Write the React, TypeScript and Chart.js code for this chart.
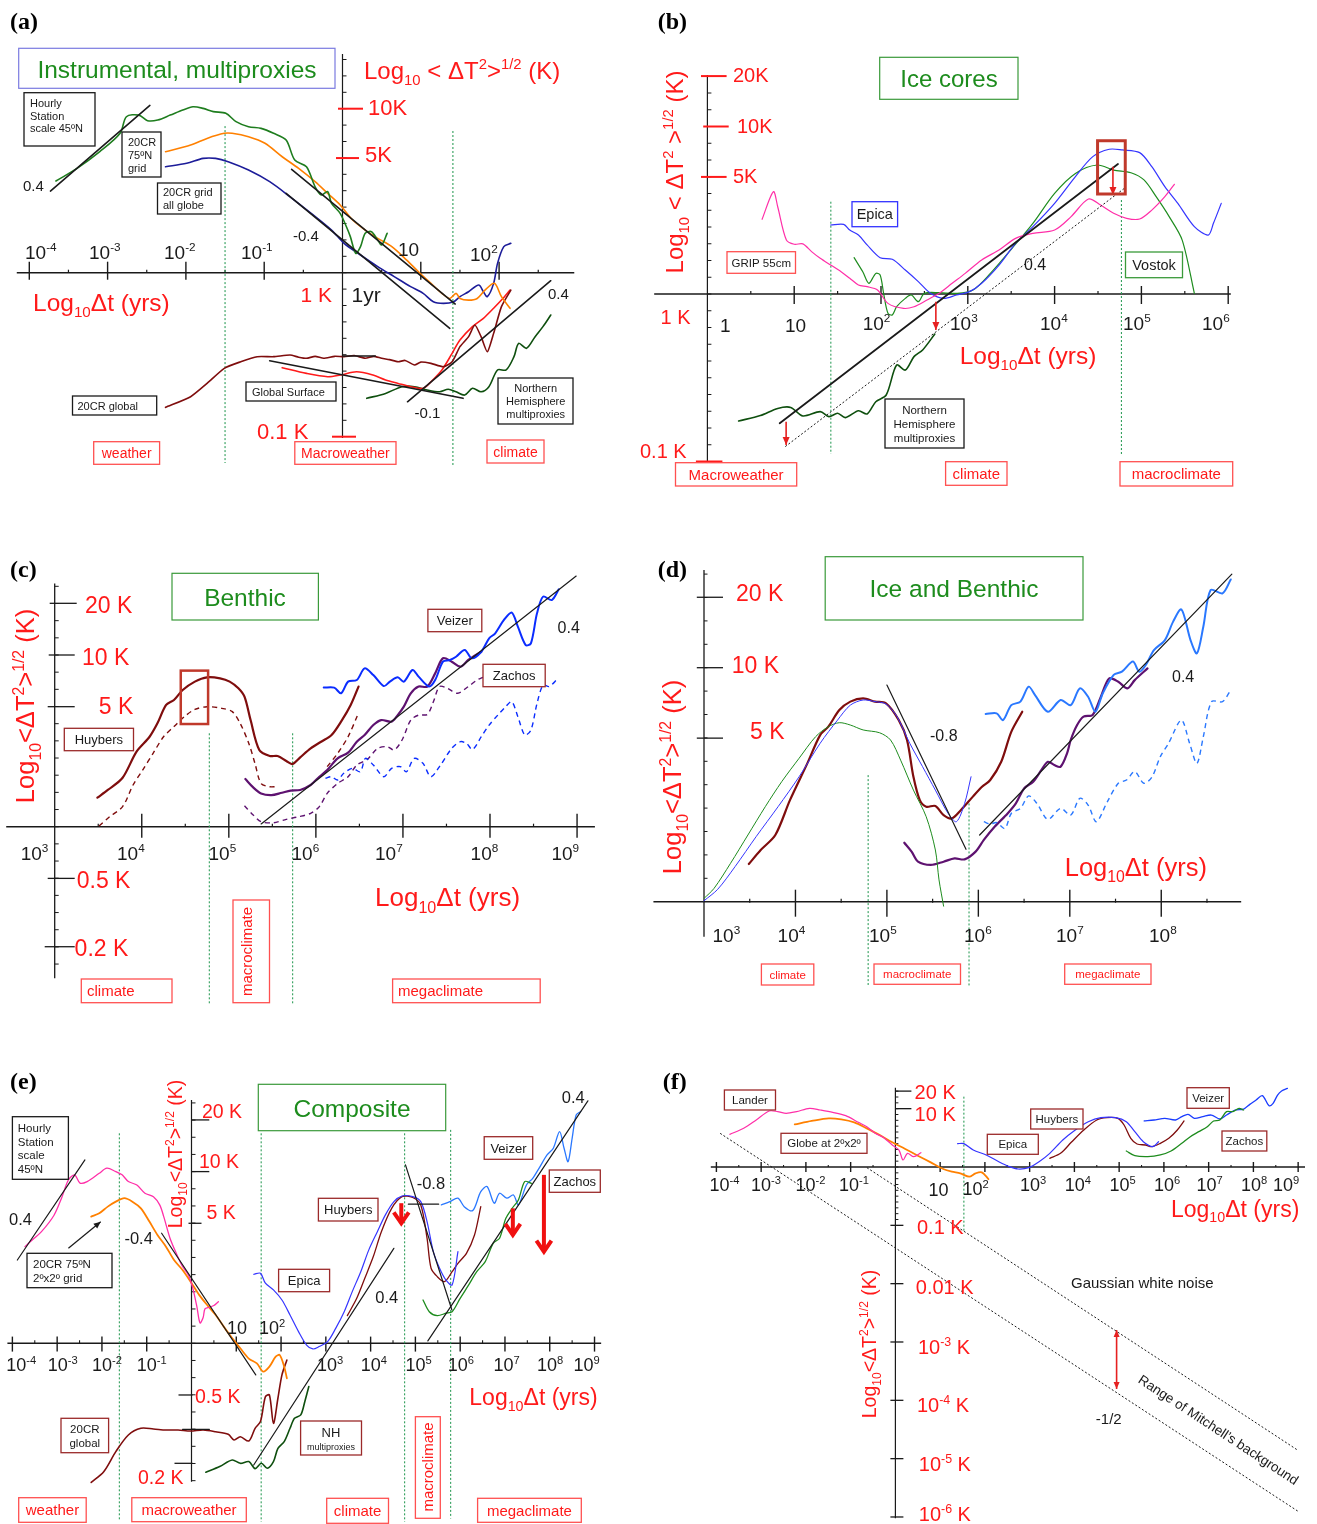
import React, { useEffect, useRef } from "react";
import { Chart, registerables } from "chart.js";
Chart.register(...registerables);

type Pt = [number, number];

// ===================== PANEL (a) DATA  (x = log10 Δt [yr], y = log10 ΔT [K]) =====================
const aHourly: Pt[] = [[-3.66,0.559],[-3.39,0.636],[-3.1,0.738],[-2.84,0.85],[-2.76,0.951],[-2.6,0.961],[-2.49,0.927],[-2.36,0.931],[-2.2,0.961],[-2.04,0.992],[-1.91,1.012],[-1.78,1.002],[-1.65,0.982],[-1.49,0.972],[-1.36,0.921],[-1.2,0.89],[-1.04,0.88],[-0.88,0.85],[-0.72,0.809],[-0.61,0.687],[-0.46,0.646],[-0.35,0.524],[-0.27,0.474],[-0.19,0.494],[-0.14,0.423],[-0.03,0.362],[0.05,0.28],[0.1,0.22],[0.17,0.118],[0.23,0.159],[0.29,0.24],[0.37,0.25],[0.45,0.199],[0.5,0.169],[0.57,0.24]];
const a20crN: Pt[] = [[-2.26,0.738],[-1.94,0.778],[-1.73,0.819],[-1.51,0.85],[-1.41,0.85],[-1.2,0.829],[-0.99,0.789],[-0.77,0.707],[-0.56,0.636],[-0.35,0.555],[-0.19,0.484],[-0.03,0.413],[0.13,0.321],[0.29,0.26],[0.45,0.209],[0.63,0.159],[0.82,0.077],[0.97,0.006],[1.13,-0.065],[1.27,-0.126],[1.37,-0.157],[1.45,-0.126],[1.5,-0.157],[1.61,-0.167],[1.72,-0.157],[1.82,-0.106],[1.94,-0.065],[2.03,-0.146],[2.14,-0.217]];
const a20crGlobe: Pt[] = [[-2.26,0.646],[-1.99,0.667],[-1.78,0.697],[-1.62,0.697],[-1.46,0.677],[-1.2,0.626],[-0.93,0.555],[-0.67,0.463],[-0.4,0.362],[-0.14,0.26],[0.02,0.179],[0.23,0.108],[0.45,0.037],[0.66,-0.024],[0.87,-0.085],[1.03,-0.126],[1.16,-0.177],[1.29,-0.187],[1.42,-0.177],[1.5,-0.146],[1.61,-0.116],[1.74,-0.075],[1.8,-0.116],[1.85,-0.146],[1.93,-0.065],[1.98,0.057],[2.06,0.159],[2.15,0.179]];
const a20crGlobal: Pt[] = [[-2.26,-0.821],[-1.94,-0.756],[-1.73,-0.675],[-1.51,-0.583],[-1.3,-0.543],[-1.09,-0.512],[-0.88,-0.512],[-0.67,-0.502],[-0.56,-0.515],[-0.46,-0.522],[-0.35,-0.51],[-0.24,-0.522],[-0.1,-0.51],[0.02,-0.512],[0.15,-0.505],[0.29,-0.522],[0.4,-0.51],[0.5,-0.522],[0.6,-0.53],[0.71,-0.543],[0.8,-0.535],[0.92,-0.563],[1.0,-0.545],[1.13,-0.553],[1.29,-0.573],[1.4,-0.543],[1.5,-0.451],[1.61,-0.39],[1.69,-0.319],[1.77,-0.39],[1.85,-0.482],[1.93,-0.37],[2.03,-0.207],[2.15,-0.106]];
const aSurface: Pt[] = [[-0.77,-0.579],[-0.46,-0.614],[-0.19,-0.634],[-0.03,-0.624],[0.18,-0.604],[0.39,-0.624],[0.55,-0.654],[0.71,-0.675],[0.87,-0.695],[1.03,-0.705],[1.13,-0.665],[1.27,-0.593],[1.4,-0.492],[1.5,-0.411],[1.66,-0.329],[1.8,-0.278],[1.93,-0.217],[2.03,-0.167],[2.14,-0.106]];
const aNHProxy: Pt[] = [[0.31,-0.766],[0.55,-0.736],[0.76,-0.695],[0.92,-0.695],[1.08,-0.715],[1.24,-0.726],[1.35,-0.711],[1.45,-0.726],[1.56,-0.746],[1.66,-0.705],[1.77,-0.726],[1.87,-0.695],[1.98,-0.593],[2.09,-0.593],[2.19,-0.512],[2.25,-0.431],[2.35,-0.461],[2.46,-0.39],[2.56,-0.329],[2.66,-0.258]];
const aFitHourly: Pt[] = [[-3.73,0.498],[-2.46,1.02]];
const aFitUpper: Pt[] = [[-0.65,0.63],[1.44,-0.191]];
const aFitLower: Pt[] = [[-0.72,0.484],[1.37,-0.339]];
const aFitMacro: Pt[] = [[-0.93,-0.537],[1.54,-0.766]];
const aFitFlat: Pt[] = [[0,-0.508],[0.42,-0.508]];
const aFitClimate: Pt[] = [[0.83,-0.787],[2.66,-0.049]];
const aBounds: number[][] = [[-1.5,0.894,-1.16],[1.41,0.864,-1.172]];
const aXTicks = [-4,-3,-2,-1,1,2];
const aYTicks = [1, 0.699, -1];

// ===================== PANEL (b) DATA =====================
const bGrip: Pt[] = [[0.63,0.446],[0.76,0.611],[0.81,0.521],[0.91,0.322],[1.0,0.297],[1.1,0.299],[1.2,0.253],[1.3,0.213],[1.42,0.173],[1.54,0.133],[1.64,0.094],[1.74,0.054],[1.84,0.044],[1.96,0.024],[2.08,-0.056],[2.26,-0.086],[2.38,-0.076],[2.53,-0.036],[2.67,0.004],[2.82,0.064],[2.97,0.123],[3.16,0.203],[3.36,0.263],[3.55,0.332],[3.75,0.362],[4.0,0.382],[4.19,0.462],[4.39,0.567],[4.53,0.531],[4.68,0.482],[4.83,0.452],[4.98,0.448],[5.12,0.501],[5.27,0.581],[5.38,0.655]];
const bEpica: Pt[] = [[1.42,0.412],[1.57,0.416],[1.64,0.382],[1.74,0.352],[1.84,0.293],[1.99,0.217],[2.13,0.207],[2.28,0.143],[2.43,0.074],[2.57,0.004],[2.72,-0.026],[2.87,-0.006],[3.02,0.014],[3.16,0.064],[3.36,0.173],[3.55,0.302],[3.75,0.402],[4.0,0.541],[4.24,0.701],[4.44,0.82],[4.63,0.864],[4.78,0.86],[4.98,0.844],[5.12,0.76],[5.27,0.641],[5.42,0.541],[5.61,0.402],[5.77,0.352],[5.83,0.422],[5.92,0.541]];
const bVostok: Pt[] = [[1.69,0.217],[1.79,0.133],[1.86,0.064],[1.94,0.123],[1.99,0.113],[2.03,0.004],[2.08,-0.115],[2.13,-0.125],[2.18,-0.076],[2.28,-0.026],[2.35,-0.006],[2.43,-0.046],[2.5,0.004],[2.67,0.008],[2.87,0.004],[3.06,0.024],[3.26,0.123],[3.51,0.273],[3.75,0.422],[4.0,0.601],[4.24,0.72],[4.49,0.77],[4.68,0.74],[4.88,0.724],[5.03,0.681],[5.17,0.581],[5.32,0.462],[5.47,0.322],[5.61,0.004]];
const bNHProxy: Pt[] = [[0.36,-0.758],[0.61,-0.726],[0.81,-0.683],[0.96,-0.677],[1.1,-0.728],[1.3,-0.702],[1.4,-0.732],[1.5,-0.712],[1.59,-0.738],[1.74,-0.697],[1.84,-0.716],[1.94,-0.643],[2.06,-0.603],[2.18,-0.424],[2.28,-0.454],[2.38,-0.374],[2.48,-0.334],[2.62,-0.239]];
const bFit: Pt[] = [[0.833,-0.772],[4.73,0.776]];
const bFitDotted: Pt[] = [[0.897,-0.911],[4.804,0.631]];
const bArrows: number[][] = [[0.907,-0.762,-0.902],[2.632,-0.046,-0.215],[4.672,0.76,0.591]];
const bPeak = [4.495,0.597,4.814,0.915];
const bBounds: number[][] = [[1.422,0.551,-0.955],[4.77,0.561,-0.955]];
const bXTicks = [1,2,3,4,5,6];
const bYTicks = [1.301, 1, 0.699, -1];

// ===================== PANEL (c) DATA =====================
const cHuybers: Pt[] = [[3.49,0.169],[3.61,0.214],[3.78,0.285],[3.94,0.437],[4.09,0.524],[4.18,0.602],[4.28,0.709],[4.37,0.738],[4.47,0.796],[4.61,0.845],[4.75,0.87],[4.9,0.864],[5.01,0.845],[5.11,0.806],[5.18,0.757],[5.25,0.621],[5.35,0.447],[5.47,0.412],[5.56,0.412],[5.66,0.383],[5.73,0.365],[5.82,0.404],[5.94,0.456],[6.06,0.495],[6.18,0.534],[6.3,0.621],[6.4,0.709],[6.49,0.816]];
const cHuybersDash: Pt[] = [[3.51,0.004],[3.63,0.058],[3.78,0.117],[3.9,0.243],[4.01,0.33],[4.13,0.427],[4.25,0.524],[4.37,0.583],[4.49,0.641],[4.61,0.683],[4.75,0.699],[4.92,0.689],[5.04,0.67],[5.13,0.602],[5.23,0.485],[5.3,0.369],[5.37,0.252],[5.47,0.233],[5.54,0.233]];
const cHuybersDash2: Pt[] = [[6.13,0.35],[6.25,0.427],[6.37,0.524],[6.48,0.65]];
const cZachos: Pt[] = [[5.19,0.278],[5.28,0.229],[5.37,0.194],[5.49,0.184],[5.61,0.198],[5.71,0.21],[5.82,0.214],[5.94,0.243],[6.04,0.291],[6.13,0.33],[6.25,0.398],[6.37,0.431],[6.47,0.495],[6.56,0.534],[6.66,0.592],[6.75,0.621],[6.87,0.612],[6.94,0.65],[7.01,0.699],[7.09,0.777],[7.18,0.816],[7.28,0.816],[7.37,0.893],[7.46,0.981],[7.56,0.961],[7.66,0.932],[7.75,0.971],[7.9,1.019]];
const cZachosDash: Pt[] = [[5.18,0.122],[5.28,0.068],[5.37,0.029],[5.51,0.023],[5.66,0.043],[5.8,0.058],[5.94,0.078],[6.04,0.117],[6.13,0.194],[6.25,0.252],[6.37,0.291],[6.47,0.359],[6.59,0.392],[6.71,0.456],[6.82,0.466],[6.9,0.447],[6.99,0.505],[7.09,0.621],[7.18,0.65],[7.28,0.654],[7.35,0.728],[7.42,0.816],[7.51,0.806],[7.63,0.777],[7.75,0.816],[7.85,0.854],[7.92,0.87]];
const cVeizer: Pt[] = [[6.09,0.81],[6.21,0.81],[6.29,0.777],[6.37,0.845],[6.47,0.854],[6.56,0.922],[6.66,0.883],[6.78,0.819],[6.85,0.845],[6.94,0.87],[7.01,0.845],[7.11,0.913],[7.18,0.874],[7.3,0.816],[7.37,0.854],[7.46,0.961],[7.54,0.971],[7.61,0.99],[7.71,1.029],[7.79,0.981],[7.9,1.019],[7.99,1.097],[8.06,1.126],[8.16,1.204],[8.25,1.247],[8.32,1.165],[8.41,1.058],[8.47,1.068],[8.54,1.243],[8.61,1.34],[8.71,1.32],[8.79,1.383]];
const cVeizerDash: Pt[] = [[6.11,0.282],[6.18,0.291],[6.25,0.272],[6.32,0.311],[6.42,0.34],[6.51,0.32],[6.57,0.398],[6.66,0.359],[6.78,0.291],[6.87,0.34],[6.97,0.35],[7.04,0.32],[7.13,0.398],[7.23,0.369],[7.32,0.291],[7.42,0.35],[7.56,0.456],[7.66,0.495],[7.73,0.485],[7.8,0.45],[7.9,0.524],[7.99,0.592],[8.09,0.65],[8.18,0.699],[8.25,0.728],[8.32,0.641],[8.4,0.534],[8.47,0.563],[8.54,0.718],[8.61,0.825],[8.68,0.816],[8.78,0.864]];
const cFit: Pt[] = [[5.371,0.016],[8.99,1.46]];
const cPeak = [4.448,0.598,4.762,0.909];
const cBounds: number[][] = [[4.776,0.544,-1.039],[5.733,0.544,-1.039]];
const cXTicks = [4,5,6,7,8,9];
const cYTicks = [1.301, 1, 0.699, -0.301, -0.699];

// ===================== PANEL (d) DATA =====================
const dVostok: Pt[] = [[3.0,0.014],[3.11,0.057],[3.29,0.164],[3.48,0.285],[3.67,0.406],[3.85,0.513],[4.04,0.613],[4.22,0.705],[4.36,0.748],[4.48,0.765],[4.6,0.755],[4.74,0.734],[4.92,0.722],[5.04,0.691],[5.15,0.605],[5.29,0.477],[5.43,0.363],[5.53,0.221],[5.57,0.093],[5.62,-0.019]];
const dEpica: Pt[] = [[3.0,0.004],[3.15,0.053],[3.34,0.15],[3.57,0.278],[3.81,0.406],[4.04,0.534],[4.27,0.677],[4.46,0.776],[4.6,0.84],[4.74,0.862],[4.87,0.855],[4.99,0.845],[5.11,0.791],[5.25,0.677],[5.39,0.577],[5.53,0.477],[5.67,0.377],[5.76,0.342],[5.85,0.42],[5.92,0.534]];
const dHuybers: Pt[] = [[3.49,0.161],[3.62,0.221],[3.78,0.285],[3.94,0.434],[4.13,0.591],[4.27,0.712],[4.36,0.748],[4.48,0.819],[4.6,0.855],[4.74,0.869],[4.87,0.855],[4.99,0.848],[5.13,0.776],[5.22,0.691],[5.29,0.534],[5.36,0.434],[5.43,0.406],[5.53,0.409],[5.62,0.37],[5.71,0.356],[5.81,0.392],[5.94,0.449],[6.04,0.491],[6.13,0.52],[6.25,0.598],[6.36,0.726],[6.48,0.812]];
const dZachos: Pt[] = [[5.19,0.252],[5.27,0.214],[5.34,0.171],[5.48,0.157],[5.62,0.171],[5.74,0.185],[5.85,0.181],[5.97,0.214],[6.06,0.264],[6.18,0.321],[6.32,0.377],[6.41,0.42],[6.5,0.484],[6.6,0.513],[6.69,0.563],[6.76,0.598],[6.83,0.584],[6.9,0.577],[6.97,0.634],[7.01,0.691],[7.08,0.755],[7.15,0.791],[7.25,0.798],[7.34,0.876],[7.43,0.954],[7.53,0.94],[7.63,0.912],[7.71,0.947],[7.85,0.997]];
const dVeizer: Pt[] = [[6.08,0.802],[6.2,0.805],[6.27,0.776],[6.36,0.84],[6.46,0.855],[6.55,0.919],[6.62,0.883],[6.76,0.812],[6.9,0.862],[7.01,0.84],[7.11,0.912],[7.2,0.876],[7.28,0.812],[7.36,0.89],[7.48,0.969],[7.57,0.983],[7.69,1.026],[7.76,0.983],[7.83,1.011],[7.92,1.075],[8.04,1.118],[8.13,1.197],[8.22,1.249],[8.32,1.118],[8.39,1.061],[8.46,1.175],[8.54,1.332],[8.67,1.318],[8.76,1.377]];
const dVeizerDash: Pt[] = [[6.06,0.342],[6.13,0.332],[6.2,0.338],[6.29,0.313],[6.36,0.377],[6.46,0.399],[6.55,0.452],[6.64,0.42],[6.76,0.352],[6.9,0.399],[7.01,0.37],[7.11,0.442],[7.2,0.413],[7.29,0.342],[7.41,0.427],[7.53,0.506],[7.62,0.52],[7.71,0.556],[7.81,0.506],[7.9,0.534],[7.99,0.62],[8.08,0.677],[8.22,0.776],[8.31,0.677],[8.39,0.591],[8.46,0.705],[8.55,0.855],[8.67,0.855],[8.76,0.905]];
const dFitSteep: Pt[] = [[5.0,0.926],[5.865,0.224]];
const dFitClimate: Pt[] = [[6.014,0.285],[8.772,1.4]];
const dBounds: number[][] = [[4.795,0.541,-0.356],[5.898,0.42,-0.363]];
const dXTicks = [4,5,6,7,8];
const dYTicks = [1.301, 1, 0.699];

// ===================== PANEL (e) DATA =====================
const eHourly: Pt[] = [[-3.72,0.563],[-3.52,0.61],[-3.35,0.65],[-3.07,0.746],[-2.89,0.854],[-2.75,0.951],[-2.61,0.981],[-2.49,0.933],[-2.33,0.942],[-2.06,0.99],[-1.89,1.02],[-1.69,1.0],[-1.55,0.981],[-1.41,0.942],[-1.22,0.922],[-1.04,0.874],[-0.85,0.854],[-0.71,0.806],[-0.62,0.738],[-0.48,0.612],[-0.34,0.524],[-0.2,0.447],[-0.07,0.398],[0.03,0.32],[0.12,0.213],[0.19,0.118],[0.26,0.15],[0.3,0.2],[0.4,0.21],[0.5,0.22],[0.6,0.242]];
const e20crN: Pt[] = [[-2.24,0.738],[-2.06,0.757],[-1.87,0.796],[-1.69,0.825],[-1.5,0.845],[-1.32,0.825],[-1.13,0.786],[-0.94,0.709],[-0.76,0.631],[-0.57,0.563],[-0.39,0.485],[-0.2,0.427],[-0.02,0.359],[0.17,0.282],[0.35,0.223],[0.54,0.165],[0.72,0.097],[0.91,0.029],[1.09,-0.029],[1.28,-0.089],[1.46,-0.117],[1.6,-0.165],[1.74,-0.136],[1.88,-0.078],[1.97,-0.068],[2.07,-0.136],[2.13,-0.204]];
const e20crGlobal: Pt[] = [[-2.24,-0.81],[-1.96,-0.748],[-1.69,-0.631],[-1.41,-0.534],[-1.13,-0.495],[-0.85,-0.499],[-0.57,-0.505],[-0.3,-0.505],[-0.02,-0.511],[0.26,-0.505],[0.54,-0.515],[0.82,-0.53],[0.95,-0.563],[1.09,-0.544],[1.28,-0.569],[1.42,-0.495],[1.54,-0.456],[1.65,-0.311],[1.74,-0.301],[1.83,-0.466],[1.93,-0.32],[2.02,-0.184],[2.13,-0.097]];
const eNHProxy: Pt[] = [[0.32,-0.751],[0.63,-0.718],[0.91,-0.68],[1.09,-0.699],[1.28,-0.689],[1.42,-0.73],[1.56,-0.699],[1.69,-0.728],[1.83,-0.689],[1.93,-0.612],[2.07,-0.573],[2.2,-0.495],[2.3,-0.437],[2.44,-0.417],[2.53,-0.34],[2.62,-0.252]];
const eEpica: Pt[] = [[1.39,0.402],[1.54,0.408],[1.65,0.35],[1.83,0.311],[2.02,0.252],[2.2,0.165],[2.39,0.068],[2.57,-0.01],[2.71,-0.033],[2.85,-0.019],[3.04,0.01],[3.22,0.087],[3.41,0.184],[3.59,0.301],[3.78,0.417],[3.96,0.544],[4.15,0.65],[4.33,0.748],[4.52,0.825],[4.7,0.858],[4.94,0.854],[5.12,0.825],[5.26,0.709],[5.4,0.534],[5.54,0.437],[5.68,0.369],[5.82,0.34],[5.95,0.534]];
const eHuybers: Pt[] = [[3.48,0.161],[3.69,0.262],[3.87,0.379],[4.06,0.505],[4.24,0.65],[4.47,0.786],[4.7,0.854],[4.94,0.849],[5.12,0.806],[5.26,0.612],[5.35,0.437],[5.49,0.388],[5.65,0.359],[5.82,0.417],[5.95,0.466],[6.14,0.524],[6.32,0.631],[6.46,0.796]];
const eZachos: Pt[] = [[5.17,0.252],[5.31,0.184],[5.49,0.161],[5.68,0.175],[5.82,0.184],[6.0,0.262],[6.19,0.34],[6.37,0.417],[6.56,0.476],[6.74,0.583],[6.88,0.612],[7.02,0.728],[7.16,0.786],[7.3,0.835],[7.44,0.942],[7.59,0.932]];
const eVeizer: Pt[] = [[5.58,0.806],[5.77,0.825],[5.95,0.845],[6.09,0.796],[6.28,0.773],[6.46,0.883],[6.6,0.913],[6.76,0.816],[6.88,0.874],[7.04,0.845],[7.19,0.864],[7.3,0.806],[7.48,0.922],[7.62,0.961],[7.76,1.019],[7.94,1.097],[8.08,1.136],[8.22,1.233],[8.32,1.136],[8.41,1.058],[8.5,1.194],[8.59,1.33],[8.69,1.35]];
const eFitHourly: Pt[] = [[-3.889,0.485],[-2.38,1.068]];
const eFitMacro: Pt[] = [[-0.667,0.641],[1.435,-0.184]];
const eFitFlat: Pt[] = [[-0.2,-0.501],[0.4,-0.501]];
const eFitClimate: Pt[] = [[1.389,-0.709],[4.519,0.553]];
const eFitSteep: Pt[] = [[4.778,1.039],[5.815,0.194]];
const eFitPeak: Pt[] = [[4.843,0.81],[5.519,0.81]];
const eFitMega: Pt[] = [[5.278,0.014],[8.852,1.412]];
const eArrows: number[][] = [[4.685,0.816,0.699],[7.176,0.786,0.631],[7.87,0.981,0.534]];
const eBounds: number[][] = [[-1.611,1.223,-1.029],[1.556,1.223,-1.04],[4.759,1.223,-1.04],[5.787,1.243,-1.02]];
const eXTicks = [-4,-3,-2,-1,1,2,3,4,5,6,7,8,9];
const eYTicks = [1.301, 1, 0.699, -0.301, -0.699];

// ===================== PANEL (f) DATA =====================
const fLander: Pt[] = [[-3.7,0.56],[-3.39,0.663],[-3.11,0.806],[-2.82,0.96],[-2.63,0.949],[-2.44,0.92],[-2.21,0.949],[-1.92,1.006],[-1.68,0.977],[-1.4,0.937],[-1.11,0.88],[-0.83,0.766],[-0.64,0.691],[-0.45,0.577],[-0.26,0.503],[-0.07,0.377],[0.08,0.291],[0.17,0.12],[0.27,0.234],[0.41,0.177],[0.57,0.246]];
const fGlobe: Pt[] = [[-2.25,0.731],[-1.87,0.789],[-1.49,0.834],[-1.21,0.817],[-0.92,0.766],[-0.64,0.663],[-0.35,0.549],[-0.07,0.423],[0.22,0.309],[0.5,0.194],[0.79,0.08],[1.07,-0.034],[1.26,-0.08],[1.45,-0.109],[1.65,-0.166],[1.79,-0.109],[1.93,-0.091],[2.08,-0.206]];
const fEpica: Pt[] = [[1.39,0.4],[1.53,0.4],[1.74,0.291],[2.03,0.206],[2.31,0.091],[2.55,0.006],[2.74,-0.034],[2.98,-0.011],[3.21,0.091],[3.45,0.234],[3.74,0.463],[4.02,0.634],[4.31,0.777],[4.59,0.846],[4.92,0.846],[5.16,0.777],[5.35,0.606],[5.54,0.434],[5.75,0.349],[5.88,0.434]];
const fHuybers: Pt[] = [[3.45,0.149],[3.69,0.234],[3.93,0.423],[4.21,0.634],[4.5,0.806],[4.73,0.846],[4.97,0.834],[5.11,0.72],[5.26,0.491],[5.4,0.394],[5.59,0.377],[5.73,0.349],[5.92,0.406],[6.11,0.491],[6.3,0.634],[6.45,0.789]];
const fZachos: Pt[] = [[5.16,0.274],[5.35,0.194],[5.64,0.177],[5.92,0.206],[6.16,0.274],[6.4,0.406],[6.59,0.52],[6.78,0.606],[6.97,0.691],[7.11,0.789],[7.25,0.806],[7.4,0.949],[7.54,0.949],[7.68,1.006],[7.78,0.977]];
const fVeizer: Pt[] = [[5.56,0.789],[5.78,0.806],[6.02,0.834],[6.26,0.806],[6.4,0.863],[6.54,0.903],[6.68,0.834],[6.87,0.863],[7.06,0.891],[7.25,0.823],[7.4,0.891],[7.59,0.977],[7.78,0.994],[7.92,1.074],[8.06,1.149],[8.2,1.223],[8.35,1.051],[8.44,1.091],[8.54,1.234],[8.63,1.303],[8.76,1.349]];
const fNoiseLo: Pt[] = [[-3.916,0.577],[9.011,-5.909]];
const fNoiseHi: Pt[] = [[-0.637,-0.011],[8.983,-4.851]];
const fRange = [4.943,-2.794,-3.806];
const fBounds: number[][] = [[1.53,1.206,-1.109]];
const fXTicks = [-4,-3,-2,-1,1,2,3,4,5,6,7,8,9];
const fYTicks = [1.301, 1, -1, -2, -3, -4, -5, -6];

// ===================== STYLE =====================
const SANS = '"Liberation Sans", Arial, Helvetica, sans-serif';
const SERIF = '"Liberation Serif", "Times New Roman", serif';
const INK = "#1a1a1a";
const RED = "#ff1a1a";
const BOXRED = "#ff5050";
const DKBOX = "#9b2a2a";
const GTXT = "#1d8c1d";
const GBOX = "#3a9a3a";
const DASHG = "#2f9e5a";
const C = {
  green: "#1e7d1e", orange: "#ff8000", navy: "#1c1c99", dred: "#7f0d0d", red: "#ff1a1a",
  dgreen: "#0e4f0e", pink: "#ff2fa8", epica: "#3535ff", vostok: "#1e8c1e", purple: "#5e1270",
  veizer: "#0a2cff", veizer2: "#2a78ff",
};

function S(data: Pt[], color: string, width: number, dash: number[] = [], tension = 0.3) {
  return { data, color, width, dash, tension };
}

// ===================== DRAW HELPERS =====================
function line(ctx: any, x1: number, y1: number, x2: number, y2: number, color = INK, w = 1, dash: number[] = []) {
  ctx.save(); ctx.strokeStyle = color; ctx.lineWidth = w; ctx.setLineDash(dash);
  ctx.beginPath(); ctx.moveTo(x1, y1); ctx.lineTo(x2, y2); ctx.stroke(); ctx.restore();
}
function parts(s: string) {
  const out: { t: string; k: number }[] = [];
  let buf = "", i = 0;
  while (i < s.length) {
    const c = s[i];
    if ((c === "^" || c === "_") && s[i + 1] === "{") {
      if (buf) out.push({ t: buf, k: 0 });
      buf = "";
      const j = s.indexOf("}", i + 2);
      out.push({ t: s.slice(i + 2, j), k: c === "^" ? 1 : 2 });
      i = j + 1;
    } else { buf += c; i++; }
  }
  if (buf) out.push({ t: buf, k: 0 });
  return out;
}
function txt(ctx: any, s: string, x: number, y: number, size: number, color = INK, align = "left", o: any = {}) {
  const fam = o.family || SANS;
  const wt = o.weight || "normal";
  const ps = parts(s);
  const fsz = (k: number) => (k === 0 ? size : size * 0.62);
  let w = 0;
  for (const p of ps) { ctx.font = `${wt} ${fsz(p.k)}px ${fam}`; w += ctx.measureText(p.t).width; }
  ctx.save();
  ctx.translate(x, y);
  if (o.rot) ctx.rotate(o.rot);
  let cx = align === "center" ? -w / 2 : align === "right" ? -w : 0;
  ctx.fillStyle = color; ctx.textAlign = "left"; ctx.textBaseline = "alphabetic";
  const base = size * 0.36;
  for (const p of ps) {
    ctx.font = `${wt} ${fsz(p.k)}px ${fam}`;
    const dy = p.k === 1 ? -size * 0.4 : p.k === 2 ? size * 0.25 : 0;
    ctx.fillText(p.t, cx, base + dy);
    cx += ctx.measureText(p.t).width;
  }
  ctx.restore();
}
function box(ctx: any, x1: number, y1: number, x2: number, y2: number, color: string, w = 1.2, fill: string | null = "#fff") {
  ctx.save();
  if (fill) { ctx.fillStyle = fill; ctx.fillRect(x1, y1, x2 - x1, y2 - y1); }
  ctx.strokeStyle = color; ctx.lineWidth = w; ctx.strokeRect(x1, y1, x2 - x1, y2 - y1);
  ctx.restore();
}
function lbox(ctx: any, x1: number, y1: number, x2: number, y2: number, border: string, s: string, size: number, color = INK) {
  box(ctx, x1, y1, x2, y2, border, 1.3);
  txt(ctx, s, (x1 + x2) / 2, (y1 + y2) / 2, size, color, "center");
}
function head(ctx: any, x: number, y: number, a: number, len: number, wid: number, color: string, style: string) {
  const c = Math.cos(a), s = Math.sin(a);
  const bx = x - len * c, by = y - len * s;
  const px = (-s * wid) / 2, py = (c * wid) / 2;
  ctx.beginPath();
  ctx.moveTo(bx + px, by + py); ctx.lineTo(x, y); ctx.lineTo(bx - px, by - py);
  if (style === "fill") { ctx.closePath(); ctx.fillStyle = color; ctx.fill(); }
  else { ctx.strokeStyle = color; ctx.stroke(); }
}
function arrow(ctx: any, x1: number, y1: number, x2: number, y2: number, color: string, w: number, len: number, wid: number, style = "fill", both = false) {
  ctx.save(); ctx.lineWidth = w; ctx.strokeStyle = color; ctx.lineCap = "butt"; ctx.lineJoin = "miter";
  ctx.beginPath(); ctx.moveTo(x1, y1); ctx.lineTo(x2, y2); ctx.stroke();
  const a = Math.atan2(y2 - y1, x2 - x1);
  head(ctx, x2, y2, a, len, wid, color, style);
  if (both) head(ctx, x1, y1, a + Math.PI, len, wid, color, style);
  ctx.restore();
}
function xTicks(ctx: any, X: any, Y: any, vals: number[], up: number, dn: number, w = 1.3) {
  const y0 = Y(0);
  for (const v of vals) line(ctx, X(v), y0 - up, X(v), y0 + dn, INK, w);
}
function halves(a: number, b: number) { const r: number[] = []; for (let v = a + 0.5; v < b; v += 1) r.push(v); return r; }
function yMinor(ctx: any, X: any, Y: any, xv: number, from: number, to: number, len: number) {
  for (let i = 0; from + i * 0.1 <= to + 1e-9; i++) { const v = from + i * 0.1; line(ctx, X(xv), Y(v), X(xv) + len, Y(v), INK, 1); }
}
function yTick(ctx: any, X: any, Y: any, xv: number, v: number, l: number, r: number, color = INK, w = 1.3) {
  line(ctx, X(xv) + l, Y(v), X(xv) + r, Y(v), color, w);
}
function bounds(ctx: any, X: any, Y: any, list: number[][], color = DASHG) {
  for (const [x, t, b] of list) line(ctx, X(x), Y(t), X(x), Y(b), color, 1.1, [2, 2]);
}
const panelLabel = (ctx: any, s: string, x: number, y: number) => txt(ctx, s, x, y, 24, "#000", "left", { family: SERIF, weight: "bold" });
const ROT = -Math.PI / 2;

// ===================== PANELS =====================
const A = {
  key: "a", left: 0, top: 0, w: 630, h: 520,
  xRef: 0, xRefPx: 342.5, xPx: 78.3, yRef: 0, yRefPx: 272.7, yPx: 164,
  series: [
    S(aFitHourly, INK, 1.6, [], 0), S(aFitUpper, INK, 1.6, [], 0), S(aFitLower, INK, 1.6, [], 0),
    S(aFitMacro, INK, 1.6, [], 0), S(aFitFlat, INK, 1.4, [], 0), S(aFitClimate, INK, 1.6, [], 0),
    S(aHourly, C.green, 1.6), S(a20crN, C.orange, 1.6), S(a20crGlobe, C.navy, 1.6),
    S(a20crGlobal, C.dred, 1.6, [], 0.2), S(aSurface, C.red, 1.6), S(aNHProxy, C.dgreen, 1.6),
  ],
  under: (ctx: any, X: any, Y: any) => {
    line(ctx, X(-4.16), Y(0), X(2.96), Y(0), INK, 1.4);
    line(ctx, X(0), Y(1.333), X(0), Y(-1.008), INK, 1.2);
    xTicks(ctx, X, Y, aXTicks, 11, 7, 1.4);
    xTicks(ctx, X, Y, halves(-4, 3), 3, 0, 1.2);
    yMinor(ctx, X, Y, 0, -0.9, 1.3, 4);
    yTick(ctx, X, Y, 0, aYTicks[0], -4.5, 20.5, RED, 2);
    yTick(ctx, X, Y, 0, aYTicks[1], -6.5, 16.5, RED, 2);
    yTick(ctx, X, Y, 0, aYTicks[2], -10.5, 13.5, RED, 2);
    bounds(ctx, X, Y, aBounds);
  },
  over: (ctx: any) => {
    panelLabel(ctx, "(a)", 10, 20);
    box(ctx, 18.7, 48.3, 335, 88.3, "#7b7be0", 1.2, null);
    txt(ctx, "Instrumental, multiproxies", 177, 69, 24.5, GTXT, "center");
    box(ctx, 24, 92.7, 95, 146, INK, 1.3);
    txt(ctx, "Hourly", 30, 103, 11); txt(ctx, "Station", 30, 116, 11); txt(ctx, "scale 45ºN", 30, 128.5, 11);
    box(ctx, 122, 132, 161, 177, INK, 1.3);
    txt(ctx, "20CR", 128, 142, 11); txt(ctx, "75ºN", 128, 155, 11); txt(ctx, "grid", 128, 168, 11);
    box(ctx, 157.5, 183, 221, 214, INK, 1.3);
    txt(ctx, "20CR grid", 163, 192, 11); txt(ctx, "all globe", 163, 205, 11);
    box(ctx, 72.5, 396, 156.7, 415, INK, 1.3); txt(ctx, "20CR global", 77.5, 406, 11);
    box(ctx, 246, 382, 336, 401, INK, 1.3); txt(ctx, "Global Surface", 252, 392, 11);
    box(ctx, 498, 378, 573, 424, INK, 1.3);
    txt(ctx, "Northern", 535.7, 388, 11, INK, "center"); txt(ctx, "Hemisphere", 535.7, 401, 11, INK, "center"); txt(ctx, "multiproxies", 535.7, 414, 11, INK, "center");
    txt(ctx, "0.4", 23, 186, 15); txt(ctx, "-0.4", 293, 236, 15); txt(ctx, "-0.1", 414.6, 413, 15); txt(ctx, "0.4", 548, 294, 15);
    txt(ctx, "10^{-4}", 25, 252, 19); txt(ctx, "10^{-3}", 89, 252, 19); txt(ctx, "10^{-2}", 164, 252, 19);
    txt(ctx, "10^{-1}", 241, 252, 19); txt(ctx, "10", 398, 249, 19); txt(ctx, "10^{2}", 470, 254, 19);
    txt(ctx, "Log_{10} < ΔT^{2}>^{1/2} (K)", 364, 70, 24, RED);
    txt(ctx, "10K", 368, 107, 22, RED); txt(ctx, "5K", 365, 154, 22, RED); txt(ctx, "0.1 K", 257, 431, 22, RED);
    txt(ctx, "1 K", 300.6, 294, 21, RED); txt(ctx, "1yr", 351.6, 294, 21, INK);
    txt(ctx, "Log_{10}Δt (yrs)", 33, 302, 24.5, RED);
    lbox(ctx, 93.7, 441.7, 159.6, 464.3, BOXRED, "weather", 14, RED);
    lbox(ctx, 294.8, 441.7, 396, 464.3, BOXRED, "Macroweather", 14, RED);
    lbox(ctx, 487, 440, 544, 463, BOXRED, "climate", 14, RED);
  },
};

const B = {
  key: "b", left: 630, top: 0, w: 687, h: 520,
  xRef: 0, xRefPx: 707.4, xPx: 86.8, yRef: 0, yRefPx: 294, yPx: 167.5,
  series: [
    S(bFit, INK, 1.8, [], 0), S(bFitDotted, INK, 1, [2, 2], 0),
    S(bGrip, C.pink, 1.2), S(bEpica, C.epica, 1.2), S(bVostok, C.vostok, 1.2), S(bNHProxy, C.dgreen, 1.6),
  ],
  under: (ctx: any, X: any, Y: any) => {
    line(ctx, X(-0.613), Y(0), X(6.03), Y(0), INK, 1.4);
    line(ctx, X(0), Y(1.307), X(0), Y(-1.0), INK, 1.2);
    xTicks(ctx, X, Y, bXTicks, 8, 10, 1.4);
    xTicks(ctx, X, Y, halves(0, 6), 3, 0, 1.2);
    yMinor(ctx, X, Y, 0, -0.9, 1.2, 4);
    yTick(ctx, X, Y, 0, bYTicks[0], -6.4, 19.2, RED, 2);
    yTick(ctx, X, Y, 0, bYTicks[1], -4.2, 21.3, RED, 2);
    yTick(ctx, X, Y, 0, bYTicks[2], -6.4, 19.2, RED, 2);
    yTick(ctx, X, Y, 0, bYTicks[3], -11.5, 15, RED, 2);
    bounds(ctx, X, Y, bBounds);
  },
  over: (ctx: any, X: any, Y: any) => {
    for (const [x, y1, y2] of bArrows) arrow(ctx, X(x), Y(y1), X(x), Y(y2), "#e62020", 1.6, 8, 7);
    box(ctx, X(bPeak[0]), Y(bPeak[3]), X(bPeak[2]), Y(bPeak[1]), "#c0392b", 3, null);
    panelLabel(ctx, "(b)", 657.7, 20);
    box(ctx, 879.7, 57.3, 1018, 99.3, GBOX, 1.2, null);
    txt(ctx, "Ice cores", 949, 78, 24, GTXT, "center");
    txt(ctx, "Log_{10} < ΔT^{2} >^{1/2} (K)", 674, 172, 24, RED, "center", { rot: ROT });
    txt(ctx, "20K", 733, 75, 20, RED); txt(ctx, "10K", 737, 126, 20, RED); txt(ctx, "5K", 733, 176, 20, RED);
    txt(ctx, "1 K", 660.6, 317, 20, RED); txt(ctx, "0.1 K", 640, 451, 20, RED);
    txt(ctx, "1", 720, 325, 19); txt(ctx, "10", 785, 325, 19); txt(ctx, "10^{2}", 862.7, 323, 19);
    txt(ctx, "10^{3}", 950, 323, 19); txt(ctx, "10^{4}", 1040, 323, 19); txt(ctx, "10^{5}", 1123, 323, 19); txt(ctx, "10^{6}", 1202, 323, 19);
    txt(ctx, "Log_{10}Δt (yrs)", 959.7, 355, 24.5, RED);
    lbox(ctx, 852, 201.7, 897.6, 226.7, "#3333ff", "Epica", 14.5);
    lbox(ctx, 727, 251.7, 795.5, 273.3, BOXRED, "GRIP 55cm", 11.5);
    lbox(ctx, 1125.5, 252, 1182.5, 277.7, GBOX, "Vostok", 14.5);
    txt(ctx, "0.4", 1024, 264, 16);
    box(ctx, 885, 399, 964, 448, INK, 1.3);
    txt(ctx, "Northern", 924.5, 410, 11.5, INK, "center"); txt(ctx, "Hemisphere", 924.5, 424, 11.5, INK, "center"); txt(ctx, "multiproxies", 924.5, 438, 11.5, INK, "center");
    lbox(ctx, 675.5, 462.7, 796.7, 486, BOXRED, "Macroweather", 15, RED);
    lbox(ctx, 945.6, 461.7, 1007, 485.3, BOXRED, "climate", 15, RED);
    lbox(ctx, 1120, 461.7, 1232.7, 486, BOXRED, "macroclimate", 15, RED);
  },
};

const Cp = {
  key: "c", left: 0, top: 520, w: 630, h: 520,
  xRef: 3, xRefPx: 54.7, xPx: 87.06, yRef: 0, yRefPx: 826.7, yPx: 171.7,
  series: [
    S(cFit, INK, 1.2, [], 0),
    S(cVeizer, C.veizer, 2), S(cVeizerDash, C.veizer, 1.4, [5, 4]),
    S(cZachos, C.purple, 2.2), S(cZachosDash, C.purple, 1.4, [5, 4]),
    S(cHuybers, C.dred, 2.2), S(cHuybersDash, C.dred, 1.4, [5, 4]), S(cHuybersDash2, C.dred, 1.4, [5, 4]),
  ],
  under: (ctx: any, X: any, Y: any) => {
    line(ctx, X(2.443), Y(0), X(9.205), Y(0), INK, 1.4);
    line(ctx, X(3), Y(1.417), X(3), Y(-0.883), INK, 1.3);
    xTicks(ctx, X, Y, cXTicks, 13, 11, 1.4);
    xTicks(ctx, X, Y, halves(3, 9), 3, 0, 1.2);
    yMinor(ctx, X, Y, 3, -0.8, 1.4, 4);
    const ext = [[-5, 22], [-6, 20], [-7, 20], [-7, 20], [-10, 20]];
    cYTicks.forEach((v, i) => yTick(ctx, X, Y, 3, v, ext[i][0], ext[i][1], INK, 1.3));
    bounds(ctx, X, Y, cBounds);
  },
  over: (ctx: any, X: any, Y: any) => {
    box(ctx, X(cPeak[0]), Y(cPeak[3]), X(cPeak[2]), Y(cPeak[1]), "#c0392b", 2.5, null);
    panelLabel(ctx, "(c)", 10, 568);
    box(ctx, 172, 573.3, 318.4, 620, GBOX, 1.2, null);
    txt(ctx, "Benthic", 245, 597, 24.5, GTXT, "center");
    txt(ctx, "Log_{10}<ΔT^{2}>^{1/2} (K)", 25, 706, 25.5, RED, "center", { rot: ROT });
    txt(ctx, "20 K", 85, 605, 23, RED); txt(ctx, "10 K", 82, 656.7, 23, RED); txt(ctx, "5 K", 98.7, 706, 23, RED);
    txt(ctx, "0.5 K", 76.7, 879.3, 23, RED); txt(ctx, "0.2 K", 74.6, 947.7, 23, RED);
    txt(ctx, "10^{3}", 20.7, 852.7, 19); txt(ctx, "10^{4}", 117, 852.7, 19); txt(ctx, "10^{5}", 208.5, 852.7, 19);
    txt(ctx, "10^{6}", 291.5, 852.7, 19); txt(ctx, "10^{7}", 375, 852.7, 19); txt(ctx, "10^{8}", 470.6, 852.7, 19); txt(ctx, "10^{9}", 551.4, 852.7, 19);
    txt(ctx, "Log_{10}Δt (yrs)", 375, 896.7, 26, RED);
    lbox(ctx, 64.3, 728.3, 133.5, 750.7, DKBOX, "Huybers", 13);
    lbox(ctx, 427.9, 609.3, 481.8, 631.7, DKBOX, "Veizer", 13);
    lbox(ctx, 483, 664.3, 545.2, 686.7, DKBOX, "Zachos", 13);
    txt(ctx, "0.4", 557.6, 627.7, 16);
    box(ctx, 81.3, 979, 172, 1002.7, BOXRED, 1.3); txt(ctx, "climate", 87, 991, 15, RED);
    box(ctx, 233, 900, 269.5, 1002.7, BOXRED, 1.3); txt(ctx, "macroclimate", 247, 951.5, 15, RED, "center", { rot: ROT });
    box(ctx, 392.6, 979, 540.2, 1002.7, BOXRED, 1.3); txt(ctx, "megaclimate", 398, 991, 15, RED);
  },
};

const D = {
  key: "d", left: 630, top: 520, w: 687, h: 520,
  xRef: 3, xRefPx: 704, xPx: 91.45, yRef: 0, yRefPx: 901.7, yPx: 234,
  series: [
    S(dFitSteep, INK, 1.2, [], 0), S(dFitClimate, INK, 1.2, [], 0),
    S(dEpica, C.epica, 1), S(dVostok, C.vostok, 1),
    S(dVeizer, C.veizer2, 2), S(dVeizerDash, C.veizer2, 1.4, [5, 4]),
    S(dZachos, C.purple, 2.2), S(dHuybers, C.dred, 2.2),
  ],
  under: (ctx: any, X: any, Y: any) => {
    line(ctx, X(2.447), Y(0), X(8.874), Y(0), INK, 1.4);
    line(ctx, X(3), Y(1.417), X(3), Y(-0.15), INK, 1.3);
    xTicks(ctx, X, Y, dXTicks, 12, 15, 1.4);
    xTicks(ctx, X, Y, halves(3, 9), 3, 1, 1.2);
    yMinor(ctx, X, Y, 3, 0.1, 1.4, 3.5);
    dYTicks.forEach((v) => yTick(ctx, X, Y, 3, v, -7.2, 19, INK, 1.3));
    bounds(ctx, X, Y, dBounds);
  },
  over: (ctx: any) => {
    panelLabel(ctx, "(d)", 657.7, 568);
    box(ctx, 825.2, 556.7, 1083, 620, GBOX, 1.2, null);
    txt(ctx, "Ice and Benthic", 954, 588, 24.5, GTXT, "center");
    txt(ctx, "Log_{10}<ΔT^{2}>^{1/2} (K)", 672, 777, 25.5, RED, "center", { rot: ROT });
    txt(ctx, "20 K", 736, 592.7, 23, RED); txt(ctx, "10 K", 731.7, 664.3, 23, RED); txt(ctx, "5 K", 750, 731, 23, RED);
    txt(ctx, "10^{3}", 712.5, 935, 19); txt(ctx, "10^{4}", 777.6, 935, 19); txt(ctx, "10^{5}", 869, 935, 19);
    txt(ctx, "10^{6}", 964, 935, 19); txt(ctx, "10^{7}", 1056, 935, 19); txt(ctx, "10^{8}", 1149, 935, 19);
    txt(ctx, "Log_{10}Δt (yrs)", 1064.7, 866.7, 25.5, RED);
    txt(ctx, "-0.8", 930, 735, 16); txt(ctx, "0.4", 1172, 676.7, 16);
    lbox(ctx, 761.4, 964, 813.8, 985, BOXRED, "climate", 11.5, RED);
    lbox(ctx, 874, 964, 960.5, 984.3, BOXRED, "macroclimate", 11.5, RED);
    lbox(ctx, 1064.7, 964, 1151, 984.3, BOXRED, "megaclimate", 11.5, RED);
  },
};

const E = {
  key: "e", left: 0, top: 1040, w: 630, h: 484,
  xRef: 0, xRefPx: 191.5, xPx: 44.78, yRef: 0, yRefPx: 1343.3, yPx: 171.7,
  series: [
    S(eFitHourly, INK, 1.2, [], 0), S(eFitMacro, INK, 1.2, [], 0), S(eFitFlat, INK, 1.2, [], 0),
    S(eFitClimate, INK, 1.2, [], 0), S(eFitSteep, INK, 1.2, [], 0), S(eFitPeak, INK, 1.2, [], 0), S(eFitMega, INK, 1.2, [], 0),
    S(eHourly, C.pink, 1.3), S(e20crN, C.orange, 1.8), S(e20crGlobal, C.dred, 1.6), S(eNHProxy, C.dgreen, 1.6),
    S(eEpica, C.epica, 1.2), S(eHuybers, C.dred, 1.3), S(eZachos, C.vostok, 1.3), S(eVeizer, C.veizer2, 1.3),
  ],
  under: (ctx: any, X: any, Y: any) => {
    line(ctx, X(-4.111), Y(0), X(9.148), Y(0), INK, 1.4);
    line(ctx, X(0), Y(1.417), X(0), Y(-0.806), INK, 1.2);
    xTicks(ctx, X, Y, eXTicks, 6.7, 8.3, 1.4);
    xTicks(ctx, X, Y, halves(-4, 9), 3, 0, 1.1);
    yMinor(ctx, X, Y, 0, -0.8, 1.4, 4);
    const ext = [[0, 17.8], [0, 17.8], [-3, 10], [-13, 1], [-17, 1]];
    eYTicks.forEach((v, i) => yTick(ctx, X, Y, 0, v, ext[i][0], ext[i][1], INK, 1.3));
    bounds(ctx, X, Y, eBounds);
  },
  over: (ctx: any, X: any, Y: any) => {
    for (const [x, y1, y2] of eArrows) arrow(ctx, X(x), Y(y1), X(x), Y(y2), "#f01010", 4, 11, 15, "open");
    arrow(ctx, 68.4, 1248.3, 100.7, 1221.7, INK, 1.2, 7, 6);
    panelLabel(ctx, "(e)", 10, 1080);
    box(ctx, 258.3, 1084.3, 445.7, 1130.7, GBOX, 1.2, null);
    txt(ctx, "Composite", 352, 1108, 24.5, GTXT, "center");
    txt(ctx, "Log_{10}<ΔT^{2}>^{1/2} (K)", 175, 1154, 19.5, RED, "center", { rot: ROT });
    txt(ctx, "20 K", 202, 1111, 19.5, RED); txt(ctx, "10 K", 199, 1161, 19.5, RED); txt(ctx, "5 K", 206.5, 1211.7, 19.5, RED);
    txt(ctx, "0.5 K", 195, 1396, 19.5, RED); txt(ctx, "0.2 K", 138, 1476.7, 19.5, RED);
    txt(ctx, "10^{-4}", 6.2, 1365, 18); txt(ctx, "10^{-3}", 47.7, 1365, 18); txt(ctx, "10^{-2}", 92, 1365, 18); txt(ctx, "10^{-1}", 136.8, 1365, 18);
    txt(ctx, "10", 227, 1328, 18); txt(ctx, "10^{2}", 259, 1328, 18);
    txt(ctx, "10^{3}", 317, 1365, 18); txt(ctx, "10^{4}", 360.7, 1365, 18); txt(ctx, "10^{5}", 405.5, 1365, 18); txt(ctx, "10^{6}", 447.8, 1365, 18);
    txt(ctx, "10^{7}", 493.4, 1365, 18); txt(ctx, "10^{8}", 537, 1365, 18); txt(ctx, "10^{9}", 573.4, 1365, 18);
    txt(ctx, "Log_{10}Δt (yrs)", 469.3, 1396.7, 23, RED);
    box(ctx, 12.4, 1116.7, 68.4, 1179.3, INK, 1.3);
    txt(ctx, "Hourly", 17.8, 1128.3, 11.5); txt(ctx, "Station", 17.8, 1141.7, 11.5); txt(ctx, "scale", 17.8, 1155, 11.5); txt(ctx, "45ºN", 17.8, 1169, 11.5);
    txt(ctx, "0.4", 9, 1219, 16.5); txt(ctx, "-0.4", 124.4, 1237.7, 16.5); txt(ctx, "-0.8", 416.7, 1183.3, 16.5);
    txt(ctx, "0.4", 375.2, 1297.3, 16.5); txt(ctx, "0.4", 561.8, 1096.7, 16.5);
    box(ctx, 27, 1253.3, 112, 1287.7, INK, 1.3);
    txt(ctx, "20CR 75ºN", 33, 1264.3, 11.5); txt(ctx, "2ºx2º grid", 33, 1278.3, 11.5);
    lbox(ctx, 278.6, 1269.3, 329.6, 1291.7, DKBOX, "Epica", 13);
    lbox(ctx, 318.4, 1198.3, 378, 1221, DKBOX, "Huybers", 13);
    lbox(ctx, 484.2, 1136.7, 532.7, 1159.3, DKBOX, "Veizer", 13);
    lbox(ctx, 549.3, 1170, 600.3, 1192.3, DKBOX, "Zachos", 13);
    box(ctx, 61, 1418.3, 108.6, 1452.7, DKBOX, 1.3);
    txt(ctx, "20CR", 84.8, 1429, 11.5, INK, "center"); txt(ctx, "global", 84.8, 1443.3, 11.5, INK, "center");
    box(ctx, 300.6, 1421, 361.5, 1455, DKBOX, 1.3);
    txt(ctx, "NH", 331, 1432.7, 13, INK, "center"); txt(ctx, "multiproxies", 331, 1446.7, 9, INK, "center");
    lbox(ctx, 18.7, 1497.7, 86.2, 1522.3, BOXRED, "weather", 15, RED);
    lbox(ctx, 131.8, 1497.7, 246.3, 1521.7, BOXRED, "macroweather", 15, RED);
    lbox(ctx, 326.7, 1498.3, 388.5, 1523.3, BOXRED, "climate", 15, RED);
    box(ctx, 415.4, 1416.7, 440.3, 1518.3, BOXRED, 1.3); txt(ctx, "macroclimate", 428, 1467, 15, RED, "center", { rot: ROT });
    lbox(ctx, 477.6, 1498.3, 581.3, 1522.3, BOXRED, "megaclimate", 15, RED);
  },
};

const F = {
  key: "f", left: 630, top: 1040, w: 687, h: 484,
  xRef: 0, xRefPx: 895.4, xPx: 44.75, yRef: 0, yRefPx: 1167, yPx: 58.33,
  series: [
    S(fNoiseLo, INK, 1, [2, 2], 0), S(fNoiseHi, INK, 1, [2, 2], 0),
    S(fLander, C.pink, 1.2), S(fGlobe, C.orange, 1.8), S(fEpica, C.epica, 1.2), S(fHuybers, C.dred, 1.3),
    S(fZachos, C.vostok, 1.3), S(fVeizer, "#1a3cff", 1.3),
  ],
  under: (ctx: any, X: any, Y: any) => {
    line(ctx, X(-4.125), Y(0), X(9.154), Y(0), INK, 1.4);
    line(ctx, X(0), Y(1.36), X(0), Y(-6.02), INK, 1.2);
    xTicks(ctx, X, Y, fXTicks, 5, 5, 1.4);
    xTicks(ctx, X, Y, halves(-4, 9), 2, 0, 1.1);
    yMinor(ctx, X, Y, 0, -0.9, 1.3, 3);
    fYTicks.forEach((v) => (v > 0 ? yTick(ctx, X, Y, 0, v, 0, 16, INK, 1.3) : yTick(ctx, X, Y, 0, v, -5, 8, INK, 1.3)));
    bounds(ctx, X, Y, fBounds);
  },
  over: (ctx: any, X: any, Y: any) => {
    arrow(ctx, X(fRange[0]), Y(fRange[1]), X(fRange[0]), Y(fRange[2]), "#e62020", 1.6, 7, 6, "fill", true);
    panelLabel(ctx, "(f)", 662.8, 1080);
    txt(ctx, "20 K", 914.6, 1091.7, 20, RED); txt(ctx, "10 K", 914.6, 1113.3, 20, RED);
    txt(ctx, "0.1 K", 917, 1226.7, 20, RED); txt(ctx, "0.01 K", 915.8, 1286.7, 20, RED);
    txt(ctx, "10^{-3} K", 918, 1346.7, 20, RED); txt(ctx, "10^{-4} K", 917, 1405, 20, RED);
    txt(ctx, "10^{-5} K", 918.8, 1463.3, 20, RED); txt(ctx, "10^{-6} K", 918.8, 1513.3, 20, RED);
    txt(ctx, "10^{-4}", 709.5, 1185, 18); txt(ctx, "10^{-3}", 751, 1185, 18); txt(ctx, "10^{-2}", 795.5, 1185, 18); txt(ctx, "10^{-1}", 839, 1185, 18);
    txt(ctx, "10", 928.6, 1190, 18); txt(ctx, "10^{2}", 962.6, 1189, 18);
    txt(ctx, "10^{3}", 1020, 1185, 18); txt(ctx, "10^{4}", 1064.7, 1185, 18); txt(ctx, "10^{5}", 1109.4, 1185, 18); txt(ctx, "10^{6}", 1154, 1185, 18);
    txt(ctx, "10^{7}", 1196.6, 1185, 18); txt(ctx, "10^{8}", 1241, 1185, 18); txt(ctx, "10^{9}", 1273, 1185, 18);
    txt(ctx, "Log_{10}Δt (yrs)", 1171, 1208.3, 23, RED);
    txt(ctx, "Log_{10}<ΔT^{2}>^{1/2} (K)", 869, 1344, 19.5, RED, "center", { rot: ROT });
    lbox(ctx, 724.4, 1090, 775.5, 1110, DKBOX, "Lander", 11.5);
    lbox(ctx, 781, 1133.3, 867, 1153.3, DKBOX, "Globe at 2ºx2º", 11.5);
    lbox(ctx, 1030.7, 1109, 1083, 1129, DKBOX, "Huybers", 11.5);
    lbox(ctx, 987.3, 1134.3, 1038.3, 1154.3, DKBOX, "Epica", 11.5);
    lbox(ctx, 1187, 1087.7, 1229.3, 1108.3, DKBOX, "Veizer", 11.5);
    lbox(ctx, 1222, 1131, 1266.8, 1151, DKBOX, "Zachos", 11.5);
    txt(ctx, "Gaussian white noise", 1071, 1282.3, 15);
    txt(ctx, "-1/2", 1095.8, 1419, 15);
    ctx.save(); ctx.translate(1140, 1378); ctx.rotate((33.3 * Math.PI) / 180);
    txt(ctx, "Range of Mitchell’s background", 0, 0, 13.5); ctx.restore();
  },
};

const PANELS: any[] = [A, B, Cp, D, E, F];

function PanelChart({ def }: { def: any }) {
  const ref = useRef<HTMLCanvasElement | null>(null);
  useEffect(() => {
    const cv = ref.current;
    if (!cv) return;
    const xmin = def.xRef + (def.left - def.xRefPx) / def.xPx;
    const xmax = def.xRef + (def.left + def.w - def.xRefPx) / def.xPx;
    const ymax = def.yRef + (def.yRefPx - def.top) / def.yPx;
    const ymin = def.yRef + (def.yRefPx - def.top - def.h) / def.yPx;
    const page = (chart: any, fn: any) => {
      const ctx = chart.ctx;
      const sx = chart.scales.x, sy = chart.scales.y;
      const X = (v: number) => sx.getPixelForValue(v) + def.left;
      const Y = (v: number) => sy.getPixelForValue(v) + def.top;
      ctx.save();
      ctx.translate(-def.left, -def.top);
      fn(ctx, X, Y);
      ctx.restore();
    };
    const chart = new Chart(cv, {
      type: "scatter",
      data: {
        datasets: def.series.map((s: any) => ({
          data: s.data.map(([x, y]: Pt) => ({ x, y })),
          showLine: true, borderColor: s.color, backgroundColor: s.color, borderWidth: s.width,
          borderDash: s.dash, tension: s.tension, pointRadius: 0, pointHoverRadius: 0, fill: false,
          borderCapStyle: s.dash.length ? "butt" : "round", borderJoinStyle: "round",
        })),
      },
      options: {
        animation: false, responsive: false, maintainAspectRatio: false, events: [],
        layout: { padding: 0 },
        plugins: { legend: { display: false }, tooltip: { enabled: false }, title: { display: false } },
        scales: {
          x: { type: "linear", display: false, min: xmin, max: xmax },
          y: { type: "linear", display: false, min: ymin, max: ymax },
        },
      },
      plugins: [{
        id: "deco" + def.key,
        beforeDatasetsDraw: (c: any) => page(c, def.under),
        afterDatasetsDraw: (c: any) => page(c, def.over),
      }],
    } as any);
    return () => chart.destroy();
  }, [def]);
  return (
    <canvas ref={ref} width={def.w} height={def.h}
      style={{ position: "absolute", left: def.left, top: def.top, width: def.w, height: def.h }} />
  );
}

export default function App() {
  return (
    <div style={{ position: "absolute", left: 0, top: 0, width: 1317, height: 1524, background: "#fff", overflow: "hidden" }}>
      {PANELS.map((p) => <PanelChart key={p.key} def={p} />)}
    </div>
  );
}
